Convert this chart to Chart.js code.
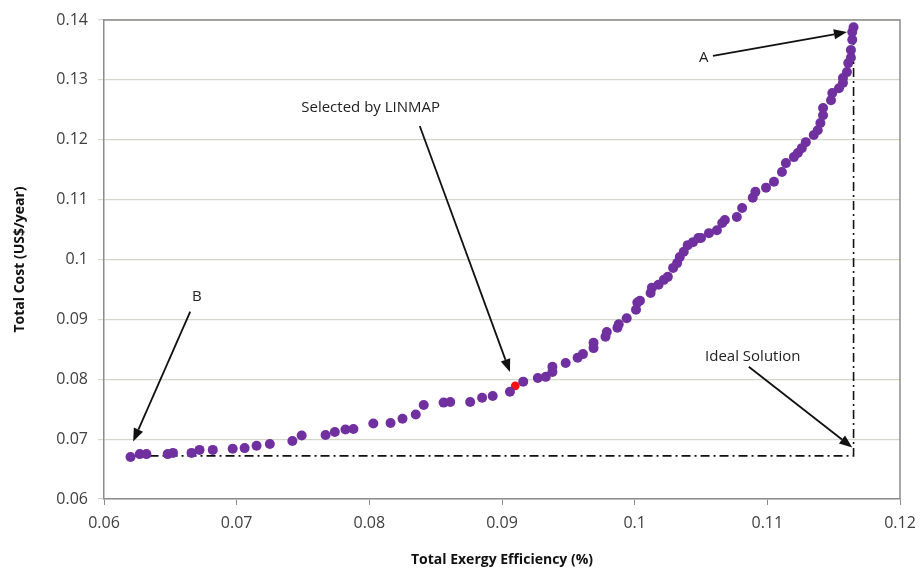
<!DOCTYPE html>
<html>
<head>
<meta charset="utf-8">
<script src="https://cdn.jsdelivr.net/npm/chart.js@4/dist/chart.umd.min.js"></script>
<style>
  html, body { margin: 0; padding: 0; background: #fff; }
  #wrap { width: 920px; height: 576px; }
</style>
</head>
<body>
<div id="wrap"><canvas id="pareto" width="920" height="576"></canvas></div>
<script>
// Pareto front: total exergy efficiency vs total cost
const efficiency = [0.0620, 0.0627, 0.0632, 0.0648, 0.0652, 0.0666, 0.0672, 0.0682, 0.0697, 0.0706,
  0.0715, 0.0725, 0.0742, 0.0749, 0.0767, 0.0774, 0.0782, 0.0788, 0.0803, 0.0816,
  0.0825, 0.0835, 0.0841, 0.0856, 0.0861, 0.0876, 0.0885, 0.0893, 0.0906, 0.0916,
  0.0927, 0.0933, 0.0938, 0.0938, 0.0948, 0.0957, 0.0961, 0.0969, 0.0969, 0.0978,
  0.0979, 0.0987, 0.0988, 0.0994, 0.1001, 0.1002, 0.1004, 0.1012, 0.1013, 0.1018,
  0.1022, 0.1025, 0.1029, 0.1032, 0.1034, 0.1037, 0.1040, 0.1044, 0.1048, 0.1050,
  0.1056, 0.1062, 0.1066, 0.1068, 0.1077, 0.1081, 0.1089, 0.1091, 0.1099, 0.1105,
  0.1111, 0.1114, 0.1120, 0.1123, 0.1126, 0.1129, 0.1135, 0.1138, 0.1140, 0.1142,
  0.1142, 0.1148, 0.1149, 0.1154, 0.1157, 0.1157, 0.1160, 0.1161, 0.1163, 0.1163,
  0.1164, 0.1164, 0.1165];
const cost = [0.0670, 0.0675, 0.0675, 0.0675, 0.0677, 0.0677, 0.0682, 0.0682, 0.0684, 0.0685,
  0.0689, 0.0692, 0.0697, 0.0706, 0.0707, 0.0712, 0.0716, 0.0717, 0.0726, 0.0727,
  0.0734, 0.0741, 0.0757, 0.0761, 0.0762, 0.0762, 0.0769, 0.0772, 0.0779, 0.0796,
  0.0802, 0.0804, 0.0812, 0.0821, 0.0827, 0.0836, 0.0842, 0.0852, 0.0861, 0.0871,
  0.0879, 0.0886, 0.0892, 0.0902, 0.0916, 0.0928, 0.0931, 0.0944, 0.0953, 0.0958,
  0.0966, 0.0971, 0.0986, 0.0994, 0.1004, 0.1013, 0.1024, 0.1029, 0.1036, 0.1036,
  0.1044, 0.1049, 0.1061, 0.1066, 0.1071, 0.1086, 0.1103, 0.1113, 0.1120, 0.1130,
  0.1146, 0.1161, 0.1171, 0.1178, 0.1186, 0.1196, 0.1208, 0.1216, 0.1228, 0.1241,
  0.1253, 0.1266, 0.1278, 0.1286, 0.1295, 0.1303, 0.1313, 0.1328, 0.1337, 0.1350,
  0.1367, 0.1380, 0.1388];

// LINMAP selection
const linmapEff = [0.0910];
const linmapCost = [0.0789];

// ideal point and the guide lines to A and B
const idealEff = 0.1165;
const idealCost = 0.0672;
const pointA = [0.1165, 0.1388];
const pointB = [0.0620, 0.0670];

const xTicks = [0.06, 0.07, 0.08, 0.09, 0.1, 0.11, 0.12];
const yTicks = [0.06, 0.07, 0.08, 0.09, 0.1, 0.11, 0.12, 0.13, 0.14];

// annotations: label text, label position, arrow start, arrow tip (data units)
const notes = [
  { text: 'A', at: [0.1052, 0.1337], from: [0.1059, 0.1340], to: [0.1160, 0.1380] },
  { text: 'B', at: [0.0670, 0.0938], from: [0.0665, 0.0913], to: [0.0622, 0.0696] },
  { text: 'Selected by LINMAP', at: [0.0801, 0.1253], from: [0.0838, 0.1223], to: [0.0906, 0.0812] },
  { text: 'Ideal Solution', at: [0.1089, 0.0837], from: [0.1086, 0.0821], to: [0.1164, 0.0686] }
];

const toPoints = (xs, ys) => xs.map((x, i) => ({ x: x, y: ys[i] }));

const frame = {
  id: 'frame',
  beforeDatasetsDraw(chart) {
    const { ctx, chartArea: a, scales: { x, y } } = chart;
    ctx.save();
    // plot border, top and right
    ctx.strokeStyle = '#8c8c8c';
    ctx.lineWidth = 1.5;
    ctx.beginPath();
    ctx.moveTo(a.left, a.top);
    ctx.lineTo(a.right, a.top);
    ctx.lineTo(a.right, a.bottom);
    ctx.stroke();
    // dash-dot guides through the ideal point
    ctx.strokeStyle = '#111';
    ctx.lineWidth = 1.6;
    ctx.setLineDash([9, 4, 2, 4]);
    ctx.beginPath();
    ctx.moveTo(x.getPixelForValue(pointB[0]), y.getPixelForValue(idealCost));
    ctx.lineTo(x.getPixelForValue(idealEff), y.getPixelForValue(idealCost));
    ctx.lineTo(x.getPixelForValue(pointA[0]), y.getPixelForValue(pointA[1]));
    ctx.stroke();
    ctx.restore();
  },
  afterDatasetsDraw(chart) {
    const { ctx, scales: { x, y } } = chart;
    ctx.save();
    ctx.font = '15px "Open Sans", sans-serif';
    ctx.textAlign = 'center';
    ctx.textBaseline = 'middle';
    notes.forEach(n => {
      ctx.fillStyle = '#222';
      ctx.fillText(n.text, x.getPixelForValue(n.at[0]), y.getPixelForValue(n.at[1]));
      const x0 = x.getPixelForValue(n.from[0]), y0 = y.getPixelForValue(n.from[1]);
      const x1 = x.getPixelForValue(n.to[0]), y1 = y.getPixelForValue(n.to[1]);
      const ang = Math.atan2(y1 - y0, x1 - x0);
      const head = 13, half = 5;
      const bx = x1 - head * Math.cos(ang), by = y1 - head * Math.sin(ang);
      ctx.strokeStyle = '#111';
      ctx.lineWidth = 1.8;
      ctx.beginPath();
      ctx.moveTo(x0, y0);
      ctx.lineTo(bx, by);
      ctx.stroke();
      ctx.fillStyle = '#111';
      ctx.beginPath();
      ctx.moveTo(x1, y1);
      ctx.lineTo(bx + half * Math.sin(ang), by - half * Math.cos(ang));
      ctx.lineTo(bx - half * Math.sin(ang), by + half * Math.cos(ang));
      ctx.closePath();
      ctx.fill();
    });
    ctx.restore();
  }
};

new Chart(document.getElementById('pareto'), {
  type: 'scatter',
  data: {
    datasets: [{
      label: 'Pareto front',
      data: toPoints(efficiency, cost),
      backgroundColor: '#7030a0',
      borderColor: '#7030a0',
      pointRadius: 5,
      borderWidth: 0
    }, {
      label: 'LINMAP',
      data: toPoints(linmapEff, linmapCost),
      backgroundColor: '#ff1010',
      borderColor: '#ff1010',
      pointRadius: 4.4,
      borderWidth: 0
    }]
  },
  options: {
    responsive: false,
    animation: false,
    layout: { padding: { top: 20, right: 20, left: 8, bottom: 0 } },
    plugins: { legend: { display: false }, tooltip: { enabled: false } },
    scales: {
      x: {
        type: 'linear',
        min: 0.06,
        max: 0.12,
        afterBuildTicks: s => { s.ticks = xTicks.map(v => ({ value: v })); },
        afterFit: s => {
          s.height = 77;
          // keep the plot's right edge fixed despite the last label's overhang
          s.paddingRight = 0;
          s.paddingLeft = 0;
        },
        ticks: {
          color: '#404040',
          font: { family: '"Open Sans", sans-serif', size: 16 },
          padding: 9,
          maxRotation: 0,
          callback: v => String(+v.toFixed(2))
        },
        grid: { drawOnChartArea: false, tickLength: 6, color: '#8c8c8c' },
        border: { color: '#8c8c8c', width: 1.5 },
        title: {
          display: true,
          text: 'Total Exergy Efficiency (%)',
          color: '#111',
          font: { family: '"Open Sans", sans-serif', size: 14, weight: 'bold' },
          padding: { top: 6, bottom: 8 }
        }
      },
      y: {
        type: 'linear',
        min: 0.06,
        max: 0.14,
        afterBuildTicks: s => { s.ticks = yTicks.map(v => ({ value: v })); },
        afterFit: s => { s.width = 96; },
        ticks: {
          color: '#404040',
          font: { family: '"Open Sans", sans-serif', size: 16 },
          padding: 10,
          callback: v => String(+v.toFixed(2))
        },
        grid: { color: '#d6d6c8', lineWidth: 1.2, tickLength: 6 },
        border: { color: '#8c8c8c', width: 1.5 },
        title: {
          display: true,
          text: 'Total Cost (US$/year)',
          color: '#111',
          font: { family: '"Open Sans", sans-serif', size: 14, weight: 'bold' },
          padding: { bottom: 4 }
        }
      }
    }
  },
  plugins: [frame]
});
</script>
</body>
</html>
